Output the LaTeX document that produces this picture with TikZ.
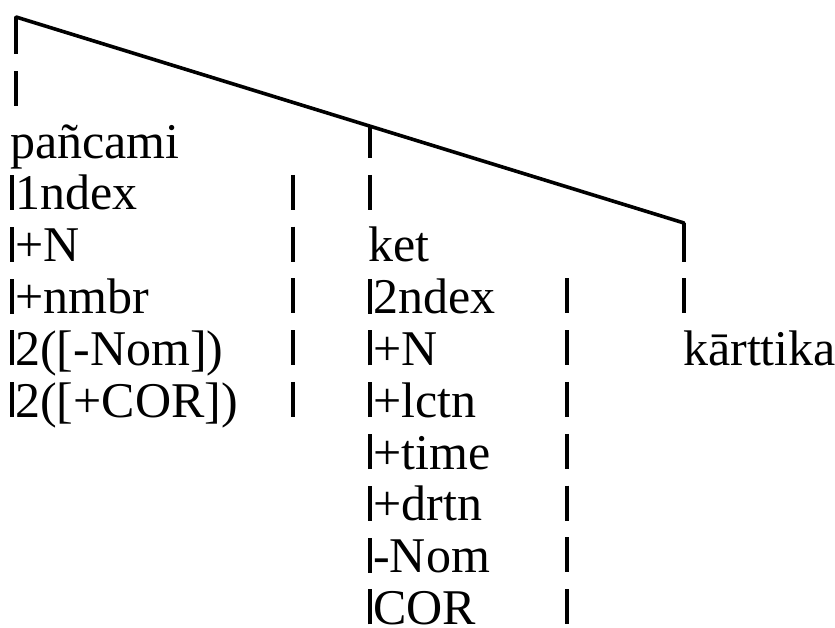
\documentclass[tikz,border=0pt]{standalone}
\usepackage{fontspec}
\setmainfont{Liberation Serif}
\newcommand\vbar{\rule{0.072em}{0.7em}\hspace{0.03em}}
\newcommand\rowtop{\rule{0pt}{0.8em}}

\begin{document}
\begin{tikzpicture}[
  x=1pt, y=1pt,
  word/.style={anchor=north west, inner sep=0pt, align=left,
               font=\fontsize{50}{51.8}\selectfont},
  branch/.style={line width=3.6pt, line cap=round},
  stem/.style={line width=3.6pt},
  barcol/.style={line width=3.6pt, dash pattern=on 35pt off 16.8pt}
]
\useasboundingbox (0,0) rectangle (835,627);

\coordinate (root) at (16,610);
\coordinate (rend) at (684,404);
\path (root) -- (rend) coordinate[pos=0.53] (kfoot);

\node[word] (panc) at (10,509) {\rowtop pañcami\\ \vbar 1ndex\\ \vbar +N\\
  \vbar +nmbr\\ \vbar 2([-Nom])\\ \vbar 2([+COR])};
\node[word] (ket) at (368,405.4) {\rowtop ket\\ \vbar 2ndex\\ \vbar +N\\
  \vbar +lctn\\ \vbar +time\\ \vbar +drtn\\ \vbar -Nom\\ \vbar COR};
\node[word] (kart) at (683,301.8) {\rowtop kārttika};

% the slanted top line, then the broken stems down to each word
\draw[branch] (root) -- (rend);
\draw[stem, dash pattern=on 37.4pt off 16.8pt on 35pt off 60pt] (root) -- (root |- panc.north);
\draw[stem, dash pattern=on 31.8pt off 16.8pt on 35pt off 60pt] (kfoot) -- (kfoot |- ket.north);
\draw[stem, dash pattern=on 38.6pt off 16.8pt on 35pt off 60pt] (rend) -- (rend |- kart.north);

% closing bars of the two feature columns
\draw[barcol] (293,452.2) -- (293,210);
\draw[barcol] (567,348.6) -- (567,2.8);

\end{tikzpicture}
\end{document}
